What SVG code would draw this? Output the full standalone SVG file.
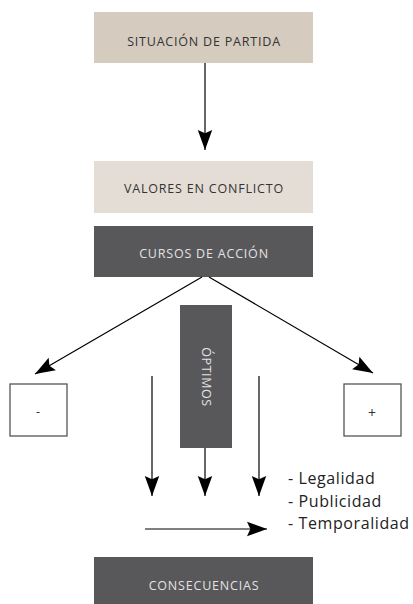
<svg xmlns="http://www.w3.org/2000/svg" width="413" height="604" viewBox="0 0 413 604">
<defs>
<marker id="ah" markerUnits="userSpaceOnUse" markerWidth="20" markerHeight="16" viewBox="0 -7 18 14" refX="18" refY="0" orient="auto">
<path d="M0,-6.5 L18,0 L0,6.5 L3,0 z" fill="#000"/>
</marker>
</defs>
<style>
.lbl{font-family:"Open Sans","Noto Sans","Liberation Sans",sans-serif;font-size:12.5px;letter-spacing:0.8px;text-anchor:middle;dominant-baseline:central}
.dk{fill:#e2e2e2}
.lt{fill:#333}
.ln{stroke:#000;stroke-width:1.2;fill:none}
.box{fill:#fff;stroke:#555;stroke-width:1.3}
.list{font-family:"Open Sans","Noto Sans","Liberation Sans",sans-serif;font-size:16px;letter-spacing:0.6px;fill:#222}
</style>
<rect width="413" height="604" fill="#fff"/>
<g id="situacion">
<rect x="94" y="12" width="219" height="51" fill="#d5cbbe"/>
<text class="lbl lt" x="204" y="41.5">SITUACIÓN DE PARTIDA</text>
</g>
<g id="valores">
<rect x="94" y="161" width="219" height="52" fill="#e4ddd5"/>
<text class="lbl lt" x="204" y="188">VALORES EN CONFLICTO</text>
</g>
<g id="cursos">
<rect x="94" y="226" width="219" height="51" fill="#58585a"/>
<text class="lbl dk" x="204" y="253">CURSOS DE ACCIÓN</text>
</g>
<g id="menos">
<rect class="box" x="10" y="384" width="57" height="52"/>
<text class="lbl lt" x="38" y="411" style="letter-spacing:0">-</text>
</g>
<g id="mas">
<rect class="box" x="344" y="384" width="57" height="52"/>
<text class="lbl lt" x="372" y="412" style="letter-spacing:0;font-size:14px">+</text>
</g>
<g id="optimos">
<rect x="180" y="305" width="52" height="143" fill="#58585a"/>
<text class="lbl dk" transform="translate(206,377) rotate(90)" x="0" y="0" style="letter-spacing:0.6px">ÓPTIMOS</text>
</g>
<g id="consecuencias">
<rect x="94" y="557" width="219" height="47" fill="#58585a"/>
<text class="lbl dk" x="204" y="585">CONSECUENCIAS</text>
</g>
<g id="criterios">
<text class="list" x="288" y="484">- Legalidad</text>
<text class="list" x="288" y="507">- Publicidad</text>
<text class="list" x="288" y="529">- Temporalidad</text>
</g>
<g id="connectors">
<line class="ln" x1="205" y1="63" x2="205" y2="150" marker-end="url(#ah)"/>
<line class="ln" x1="202" y1="277" x2="35" y2="374" marker-end="url(#ah)"/>
<line class="ln" x1="209" y1="277" x2="373" y2="373" marker-end="url(#ah)"/>
<line class="ln" x1="152" y1="376" x2="152" y2="496" marker-end="url(#ah)"/>
<line class="ln" x1="205" y1="448" x2="205" y2="496" marker-end="url(#ah)"/>
<line class="ln" x1="259" y1="376" x2="259" y2="496" marker-end="url(#ah)"/>
<line class="ln" x1="145" y1="529" x2="267" y2="529" marker-end="url(#ah)"/>
</g>
</svg>
